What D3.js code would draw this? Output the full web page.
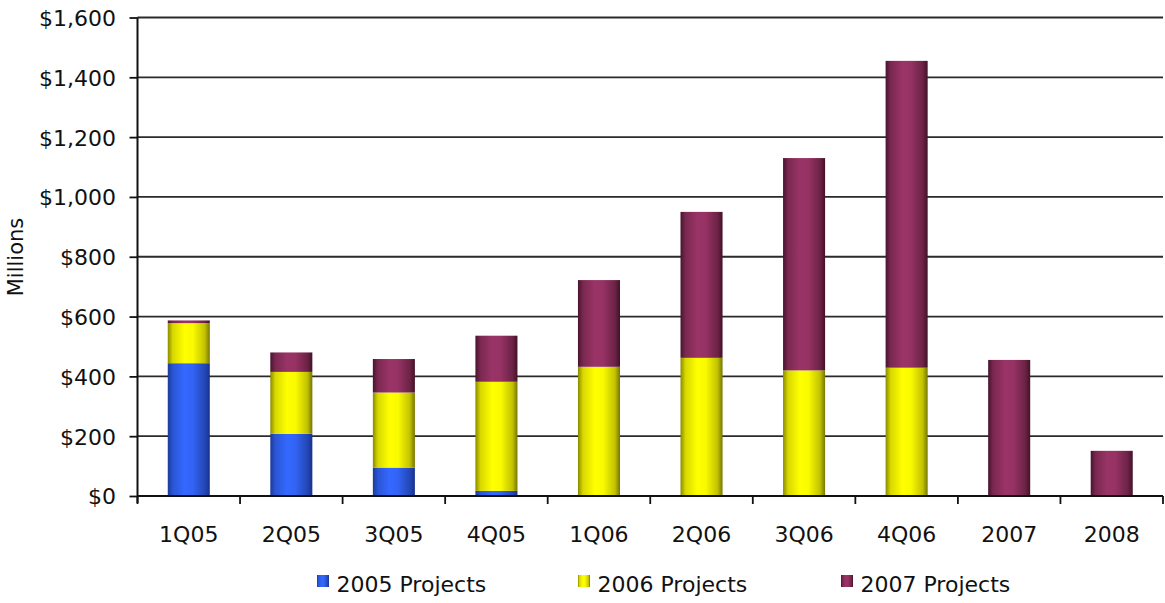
<!DOCTYPE html>
<html>
<head>
<meta charset="utf-8">
<script src="https://cdn.jsdelivr.net/npm/d3@7"></script>
<style>
  html, body { margin: 0; padding: 0; background: #fff; }
  svg { display: block; }
  text { font-family: "DejaVu Sans", Verdana, sans-serif; fill: #111; }
</style>
</head>
<body>
<svg id="chart" width="1165" height="603"></svg>
<script>
// Quarterly project spending, in millions of dollars
const categories = ["1Q05", "2Q05", "3Q05", "4Q05", "1Q06", "2Q06", "3Q06", "4Q06", "2007", "2008"];
const projects2005 = [444, 208, 95, 17, 0, 0, 0, 0, 0, 0];
const projects2006 = [134, 207, 251, 365, 432, 462, 420, 429, 0, 0];
const projects2007 = [9, 65, 112, 154, 290, 488, 710, 1026, 455, 151];
const seriesNames = ["2005 Projects", "2006 Projects", "2007 Projects"];
const yTicks = [0, 200, 400, 600, 800, 1000, 1200, 1400, 1600];

const svg = d3.select("#chart");

const plotLeft = 137.5, plotRight = 1163, plotTop = 17.5, plotBottom = 496;
const fontSize = 22;

const x = d3.scaleBand().domain(categories)
  .range([plotLeft, plotRight]).paddingInner(0.59).paddingOuter(0.295);
const y = d3.scaleLinear().domain([0, 1600]).range([plotBottom, plotTop]);

// Cylinder-style horizontal shading for each series
const shades = [
  ["#1b3a98", "#2a55d4", "#3468ff", "#3263f4", "#2447b6", "#19318c"],
  ["#8a8a00", "#d8d800", "#ffff00", "#fafa00", "#c2c200", "#767600"],
  ["#48142e", "#7a2850", "#9a3467", "#963264", "#6c2346", "#441127"]
];
const offsets = ["0%", "12%", "40%", "60%", "88%", "100%"];
const defs = svg.append("defs");
shades.forEach((cols, i) => {
  const g = defs.append("linearGradient").attr("id", "grad" + i)
    .attr("x1", "0%").attr("x2", "100%").attr("y1", "0%").attr("y2", "0%");
  cols.forEach((c, j) => g.append("stop").attr("offset", offsets[j]).attr("stop-color", c));
});

// Horizontal gridlines
svg.append("g").selectAll("line").data(yTicks).join("line")
  .attr("x1", plotLeft).attr("x2", plotRight)
  .attr("y1", d => y(d)).attr("y2", d => y(d))
  .attr("stroke", "#2a2a2a").attr("stroke-width", 1.8);

// Stacked bars
const rows = categories.map((c, i) => ({
  cat: c, p2005: projects2005[i], p2006: projects2006[i], p2007: projects2007[i]
}));
const stack = d3.stack().keys(["p2005", "p2006", "p2007"]);
const layers = stack(rows);

svg.append("g").selectAll("g").data(layers).join("g")
  .attr("fill", (d, i) => `url(#grad${i})`)
  .selectAll("rect").data(d => d.filter(s => s[1] - s[0] > 0)).join("rect")
  .attr("x", d => x(d.data.cat))
  .attr("width", x.bandwidth())
  .attr("y", d => y(d[1]))
  .attr("height", d => y(d[0]) - y(d[1]));

// Y axis
const yAxis = d3.axisLeft(y).tickValues(yTicks)
  .tickFormat(d => "$" + d3.format(",")(d))
  .tickSize(8).tickPadding(13.5);
const ga = svg.append("g").attr("transform", `translate(${plotLeft},0)`).call(yAxis);
ga.select(".domain").remove();
ga.selectAll(".tick line").attr("stroke", "#111").attr("stroke-width", 1.8);
ga.selectAll(".tick text").attr("font-size", fontSize)
  .attr("font-family", "DejaVu Sans, Verdana, sans-serif")
  .attr("fill", "#111").attr("dy", "0.36em");

svg.append("line").attr("x1", plotLeft).attr("x2", plotLeft)
  .attr("y1", plotTop).attr("y2", plotBottom + 7)
  .attr("stroke", "#111").attr("stroke-width", 2);

// X axis with ticks on category boundaries
svg.append("line").attr("x1", plotLeft).attr("x2", plotRight)
  .attr("y1", plotBottom).attr("y2", plotBottom)
  .attr("stroke", "#111").attr("stroke-width", 2);
const bounds = d3.range(categories.length + 1).map(i => x.range()[0] + i * x.step());
svg.append("g").selectAll("line").data(bounds).join("line")
  .attr("x1", d => d).attr("x2", d => d)
  .attr("y1", plotBottom).attr("y2", plotBottom + 8)
  .attr("stroke", "#111").attr("stroke-width", 1.8);
svg.append("g").selectAll("text").data(categories).join("text")
  .attr("x", d => x(d) + x.bandwidth() / 2)
  .attr("y", 541.5)
  .attr("text-anchor", "middle")
  .attr("font-size", fontSize)
  .text(d => d);

// Axis title
svg.append("text")
  .attr("transform", "translate(23,257) rotate(-90)")
  .attr("text-anchor", "middle")
  .attr("font-size", 21)
  .text("Millions");

// Legend
const legendX = [317, 578, 841];
const lg = svg.append("g").selectAll("g").data(seriesNames).join("g")
  .attr("transform", (d, i) => `translate(${legendX[i]},0)`);
lg.append("rect").attr("x", 0).attr("y", 575).attr("width", 12).attr("height", 12)
  .attr("fill", (d, i) => `url(#grad${i})`);
lg.append("text").attr("x", 19.5).attr("y", 592)
  .attr("font-size", fontSize).text(d => d);
</script>
</body>
</html>
